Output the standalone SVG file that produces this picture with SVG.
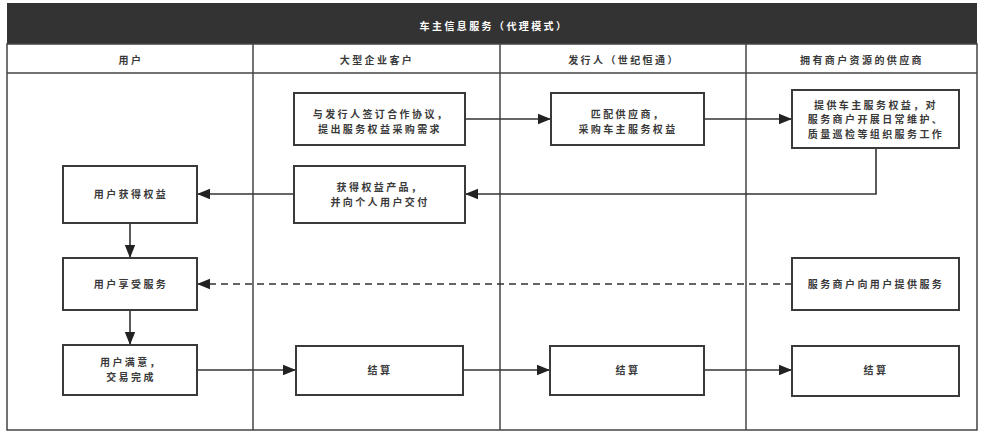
<svg xmlns="http://www.w3.org/2000/svg" width="984" height="432" viewBox="0 0 984 432">
<defs>
<style>
.t{font-family:"Noto Sans CJK SC","Noto Sans",sans-serif;font-size:10px;font-weight:bold;fill:#3a3a3a;text-anchor:middle;letter-spacing:2.4px}
.title{fill:#ffffff}
.lane{fill:none;stroke:#444;stroke-width:1.5}
.box{fill:#fff;stroke:#3a3a3a;stroke-width:2}
.c{fill:none;stroke:#333;stroke-width:1.6}
.d{stroke-dasharray:7 5}
</style>
<marker id="ah" viewBox="0 0 10 10" refX="10" refY="5" markerWidth="13" markerHeight="13" markerUnits="userSpaceOnUse" orient="auto">
<path d="M0,1 L10,5 L0,9 Z" fill="#222"/>
</marker>
</defs>
<rect x="0" y="0" width="984" height="432" fill="#fff"/>
<g id="pool">
<rect x="7" y="3" width="970" height="41" fill="#333333"/>
<text class="t title" x="494" y="30">车主信息服务（代理模式）</text>
<rect class="lane" x="7" y="44" width="970" height="386"/>
<line class="lane" x1="7" y1="73" x2="977" y2="73"/>
<line class="lane" x1="253" y1="44" x2="253" y2="430"/>
<line class="lane" x1="500" y1="44" x2="500" y2="430"/>
<line class="lane" x1="746" y1="44" x2="746" y2="430"/>
<text class="t" x="131" y="64">用户</text>
<text class="t" x="377" y="64">大型企业客户</text>
<text class="t" x="624" y="64">发行人（世纪恒通）</text>
<text class="t" x="862" y="64">拥有商户资源的供应商</text>
</g>
<g id="connectors">
<line class="c" x1="465" y1="119" x2="551" y2="119" marker-end="url(#ah)"/>
<line class="c" x1="704" y1="119" x2="792" y2="119" marker-end="url(#ah)"/>
<polyline class="c" points="876,148 876,194 465,194" marker-end="url(#ah)"/>
<line class="c" x1="294" y1="194" x2="197" y2="194" marker-end="url(#ah)"/>
<line class="c" x1="130" y1="223" x2="130" y2="258" marker-end="url(#ah)"/>
<line class="c d" x1="792" y1="284" x2="197" y2="284" marker-end="url(#ah)"/>
<line class="c" x1="130" y1="310" x2="130" y2="345" marker-end="url(#ah)"/>
<line class="c" x1="197" y1="370" x2="296" y2="370" marker-end="url(#ah)"/>
<line class="c" x1="463" y1="370" x2="550" y2="370" marker-end="url(#ah)"/>
<line class="c" x1="704" y1="370" x2="792" y2="370" marker-end="url(#ah)"/>
</g>
<g id="n_sign">
<rect class="box" x="294" y="93" width="171" height="52"/>
<text class="t" x="381" y="118">与发行人签订合作协议，</text>
<text class="t" x="380" y="133">提出服务权益采购需求</text>
</g>
<g id="n_match">
<rect class="box" x="551" y="93" width="153" height="52"/>
<text class="t" x="628" y="118">匹配供应商，</text>
<text class="t" x="628" y="133">采购车主服务权益</text>
</g>
<g id="n_supply">
<rect class="box" x="792" y="90" width="167" height="58"/>
<text class="t" x="876" y="109">提供车主服务权益，对</text>
<text class="t" x="876" y="123">服务商户开展日常维护、</text>
<text class="t" x="876" y="138">质量巡检等组织服务工作</text>
</g>
<g id="n_obtain">
<rect class="box" x="294" y="166" width="171" height="57"/>
<text class="t" x="380" y="191">获得权益产品，</text>
<text class="t" x="380" y="206">并向个人用户交付</text>
</g>
<g id="n_user_get">
<rect class="box" x="63" y="166" width="134" height="57"/>
<text class="t" x="131" y="198">用户获得权益</text>
</g>
<g id="n_user_enjoy">
<rect class="box" x="63" y="258" width="134" height="52"/>
<text class="t" x="131" y="288">用户享受服务</text>
</g>
<g id="n_merchant">
<rect class="box" x="792" y="258" width="167" height="52"/>
<text class="t" x="876" y="288">服务商户向用户提供服务</text>
</g>
<g id="n_user_done">
<rect class="box" x="63" y="345" width="134" height="50"/>
<text class="t" x="131" y="366">用户满意，</text>
<text class="t" x="131" y="381">交易完成</text>
</g>
<g id="n_settle1">
<rect class="box" x="296" y="346" width="167" height="49"/>
<text class="t" x="380" y="374">结算</text>
</g>
<g id="n_settle2">
<rect class="box" x="550" y="346" width="154" height="49"/>
<text class="t" x="628" y="374">结算</text>
</g>
<g id="n_settle3">
<rect class="box" x="792" y="346" width="167" height="50"/>
<text class="t" x="876" y="374">结算</text>
</g>
</svg>
